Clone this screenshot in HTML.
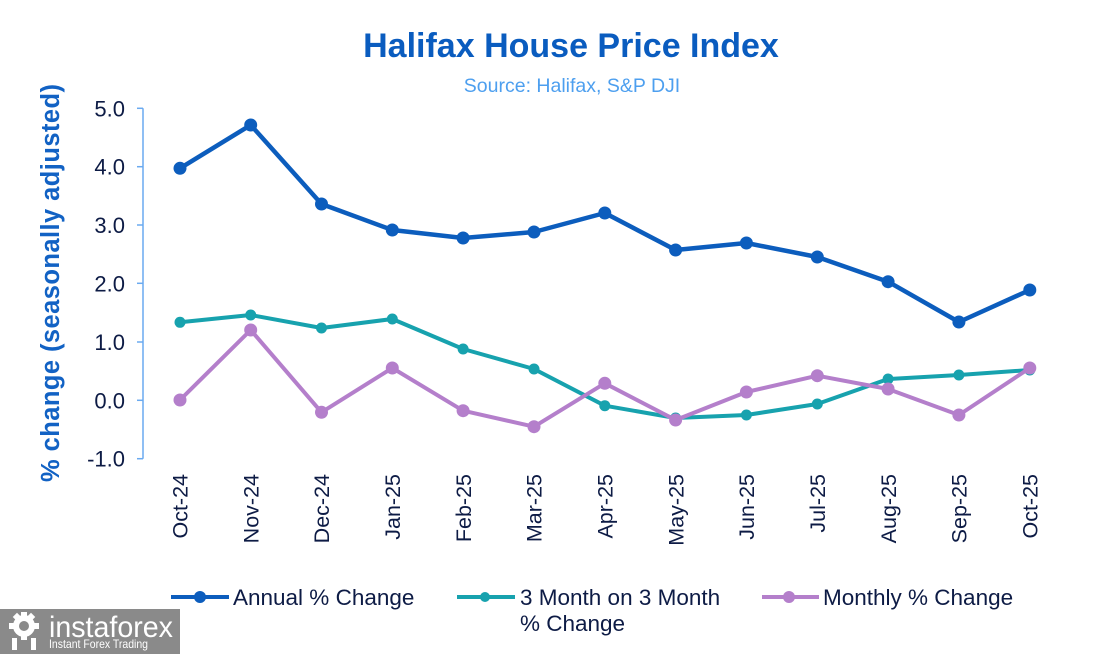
<!DOCTYPE html>
<html><head><meta charset="utf-8"><style>
html,body{margin:0;padding:0;background:#fff;}
svg{display:block;}
text{font-family:"Liberation Sans",Arial,sans-serif;}
</style></head><body>
<svg width="1111" height="654" viewBox="0 0 1111 654" xmlns="http://www.w3.org/2000/svg">
<rect width="1111" height="654" fill="#fff"/>
<text x="571" y="57" text-anchor="middle" font-size="34" font-weight="bold" fill="#0a5cbf">Halifax House Price Index</text>
<text x="572" y="92" text-anchor="middle" font-size="19.5" fill="#4d9fef">Source: Halifax, S&amp;P DJI</text>

<text transform="translate(59,482) rotate(-90)" font-size="25.5" font-weight="bold" fill="#1262c4" textLength="398" lengthAdjust="spacing">%  change (seasonally adjusted)</text>

<g stroke="#6aaaf0" stroke-width="1.5" fill="none">
<line x1="143" y1="108.3" x2="143" y2="458.7"/>
<line x1="137" y1="108.3" x2="143" y2="108.3"/>
<line x1="137" y1="166.7" x2="143" y2="166.7"/>
<line x1="137" y1="225" x2="143" y2="225"/>
<line x1="137" y1="283.3" x2="143" y2="283.3"/>
<line x1="137" y1="342" x2="143" y2="342"/>
<line x1="137" y1="400.3" x2="143" y2="400.3"/>
<line x1="137" y1="458.7" x2="143" y2="458.7"/>
</g>
<g font-size="22" fill="#0d1b45" text-anchor="end">
<text x="125" y="116.3">5.0</text>
<text x="125" y="174.7">4.0</text>
<text x="125" y="233">3.0</text>
<text x="125" y="291.3">2.0</text>
<text x="125" y="350">1.0</text>
<text x="125" y="408.3">0.0</text>
<text x="125" y="466.7">-1.0</text>
</g>

<g font-size="21.5" fill="#0d1b45" text-anchor="end">
<text transform="translate(187.7,474) rotate(-90)">Oct-24</text>
<text transform="translate(258.4,474) rotate(-90)">Nov-24</text>
<text transform="translate(329.2,474) rotate(-90)">Dec-24</text>
<text transform="translate(400,474) rotate(-90)">Jan-25</text>
<text transform="translate(470.8,474) rotate(-90)">Feb-25</text>
<text transform="translate(541.7,474) rotate(-90)">Mar-25</text>
<text transform="translate(612.5,474) rotate(-90)">Apr-25</text>
<text transform="translate(683.3,474) rotate(-90)">May-25</text>
<text transform="translate(754.1,474) rotate(-90)">Jun-25</text>
<text transform="translate(825,474) rotate(-90)">Jul-25</text>
<text transform="translate(895.8,474) rotate(-90)">Aug-25</text>
<text transform="translate(966.6,474) rotate(-90)">Sep-25</text>
<text transform="translate(1037.5,474) rotate(-90)">Oct-25</text>
</g>

<!-- Annual -->
<polyline fill="none" stroke="#0c5dbd" stroke-width="4.5" stroke-linejoin="round" points="180,168.3 250.7,125 321.5,204 392.3,230 463.1,238 534,232 604.8,213 675.6,250 746.4,243 817.3,257 888.1,281.7 958.9,322 1029.8,290"/>
<g fill="#0c5dbd">
<circle cx="180" cy="168.3" r="6.5"/><circle cx="250.7" cy="125" r="6.5"/><circle cx="321.5" cy="204" r="6.5"/><circle cx="392.3" cy="230" r="6.5"/><circle cx="463.1" cy="238" r="6.5"/><circle cx="534" cy="232" r="6.5"/><circle cx="604.8" cy="213" r="6.5"/><circle cx="675.6" cy="250" r="6.5"/><circle cx="746.4" cy="243" r="6.5"/><circle cx="817.3" cy="257" r="6.5"/><circle cx="888.1" cy="281.7" r="6.5"/><circle cx="958.9" cy="322" r="6.5"/><circle cx="1029.8" cy="290" r="6.5"/>
</g>

<!-- 3M -->
<polyline fill="none" stroke="#17a2ae" stroke-width="4" stroke-linejoin="round" points="180,322.3 250.7,315 321.5,328 392.3,319 463.1,349 534,369 604.8,405.7 675.6,418 746.4,415 817.3,404 888.1,379 958.9,375 1029.8,370"/>
<g fill="#17a2ae">
<circle cx="180" cy="322.3" r="5.5"/><circle cx="250.7" cy="315" r="5.5"/><circle cx="321.5" cy="328" r="5.5"/><circle cx="392.3" cy="319" r="5.5"/><circle cx="463.1" cy="349" r="5.5"/><circle cx="534" cy="369" r="5.5"/><circle cx="604.8" cy="405.7" r="5.5"/><circle cx="675.6" cy="418" r="5.5"/><circle cx="746.4" cy="415" r="5.5"/><circle cx="817.3" cy="404" r="5.5"/><circle cx="888.1" cy="379" r="5.5"/><circle cx="958.9" cy="375" r="5.5"/><circle cx="1029.8" cy="370" r="5.5"/>
</g>

<!-- Monthly -->
<polyline fill="none" stroke="#b47fcb" stroke-width="4" stroke-linejoin="round" points="180,400 250.7,330 321.5,412.3 392.3,368 463.1,410.7 534,426.7 604.8,383.3 675.6,420 746.4,392 817.3,375.7 888.1,389 958.9,415 1029.8,368"/>
<g fill="#b47fcb">
<circle cx="180" cy="400" r="6.5"/><circle cx="250.7" cy="330" r="6.5"/><circle cx="321.5" cy="412.3" r="6.5"/><circle cx="392.3" cy="368" r="6.5"/><circle cx="463.1" cy="410.7" r="6.5"/><circle cx="534" cy="426.7" r="6.5"/><circle cx="604.8" cy="383.3" r="6.5"/><circle cx="675.6" cy="420" r="6.5"/><circle cx="746.4" cy="392" r="6.5"/><circle cx="817.3" cy="375.7" r="6.5"/><circle cx="888.1" cy="389" r="6.5"/><circle cx="958.9" cy="415" r="6.5"/><circle cx="1029.8" cy="368" r="6.5"/>
</g>

<!-- Legend -->
<line x1="171" y1="597" x2="229" y2="597" stroke="#0c5dbd" stroke-width="4"/>
<circle cx="200" cy="597" r="6" fill="#0c5dbd"/>
<text x="233" y="605" font-size="22.5" fill="#0d1b45">Annual % Change</text>

<line x1="457" y1="597" x2="515" y2="597" stroke="#17a2ae" stroke-width="4"/>
<circle cx="485" cy="597" r="5" fill="#17a2ae"/>
<text x="520" y="605" font-size="22.5" fill="#0d1b45">3 Month on 3 Month</text>
<text x="520" y="631" font-size="22.5" fill="#0d1b45">% Change</text>

<line x1="762" y1="597" x2="819" y2="597" stroke="#b47fcb" stroke-width="4"/>
<circle cx="789" cy="597" r="6" fill="#b47fcb"/>
<text x="823" y="605" font-size="22.5" fill="#0d1b45">Monthly % Change</text>

<!-- watermark -->
<rect x="0" y="609" width="180" height="45" fill="#8a8a8a"/>
<g fill="#fff">
<circle cx="24" cy="626" r="11"/>
<rect x="21" y="612" width="6" height="28"/>
<rect x="9" y="623" width="30" height="6"/>
<rect x="14" y="614" width="6" height="6" transform="rotate(45 17 617)"/>
<rect x="28" y="614" width="6" height="6" transform="rotate(45 31 617)"/>
<rect x="12" y="638" width="5" height="12"/>
<rect x="31" y="638" width="5" height="12"/>
</g>
<circle cx="24" cy="626" r="5" fill="#8a8a8a"/>
<text x="49" y="637" font-size="30" fill="#fff" textLength="124" lengthAdjust="spacingAndGlyphs">instaforex</text>
<text x="49" y="648" font-size="12" fill="#fff" textLength="99" lengthAdjust="spacingAndGlyphs">Instant Forex Trading</text>
</svg>
</body></html>
